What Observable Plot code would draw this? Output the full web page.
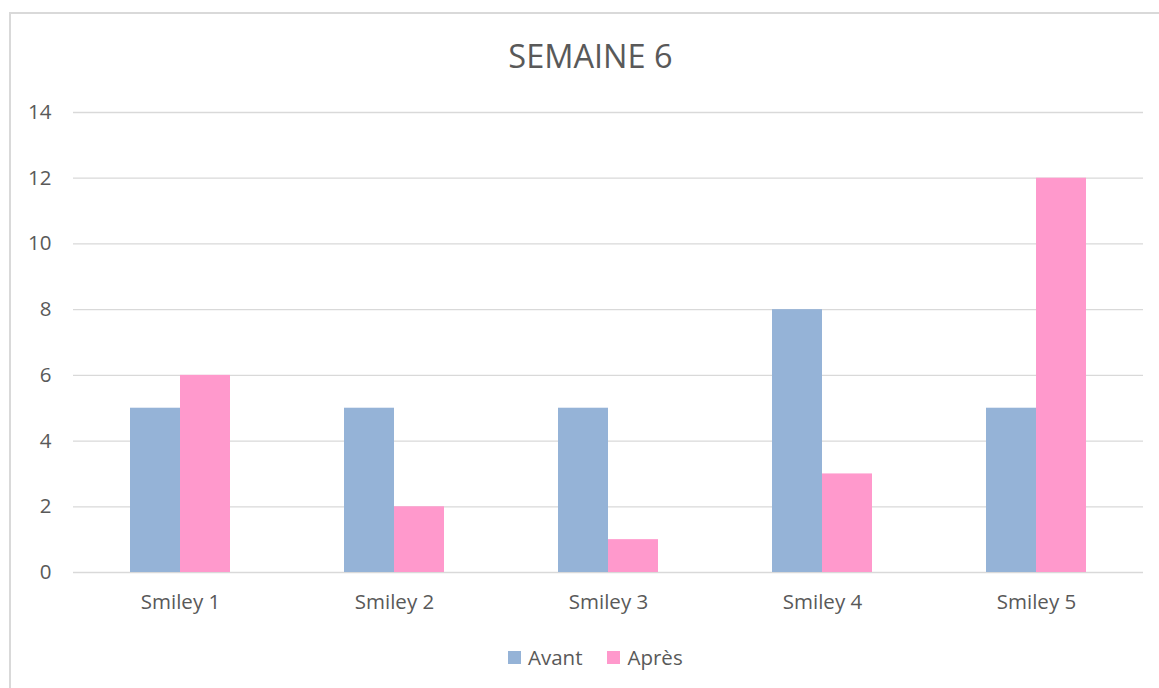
<!DOCTYPE html>
<html>
<head>
<meta charset="utf-8">
<script src="https://cdn.jsdelivr.net/npm/d3@7"></script>
<script src="https://cdn.jsdelivr.net/npm/@observablehq/plot@0.6"></script>
<style>
  html, body { margin: 0; padding: 0; background: #fff; }
  #wrap { position: relative; width: 1159px; height: 688px; overflow: hidden; font-family: "Open Sans", sans-serif; color: #595959; }
  #frame { position: absolute; left: 9px; top: 12px; width: 1200px; height: 700px; border-left: 2px solid #d9d9d9; border-top: 2px solid #d9d9d9; }
  #title { position: absolute; left: 0; top: 34px; width: 1181px; text-align: center; font-size: 32.5px; line-height: 44px; }
  #chart { position: absolute; left: 0; top: 0; }
  #legend { position: absolute; left: 508px; top: 644px; display: flex; align-items: center; font-size: 20.5px; line-height: 26px; }
  .sw { width: 13px; height: 13px; margin-right: 7px; }
  .item { display: flex; align-items: center; margin-right: 25px; }
</style>
</head>
<body>
<div id="wrap">
  <div id="frame"></div>
  <div id="chart"></div>
  <div id="title">SEMAINE 6</div>
  <div id="legend"></div>
</div>
<script>
const categories = ["Smiley 1", "Smiley 2", "Smiley 3", "Smiley 4", "Smiley 5"];
const series = ["Avant", "Après"];
const avant = [5, 5, 5, 8, 5];
const apres = [6, 2, 1, 3, 12];
const colors = ["#95b3d7", "#ff99cc"];
const yTicks = [0, 2, 4, 6, 8, 10, 12, 14];

const data = [];
categories.forEach((c, i) => {
  data.push({cat: c, series: series[0], value: avant[i]});
  data.push({cat: c, series: series[1], value: apres[i]});
});

const chart = Plot.plot({
  width: 1159,
  height: 630,
  marginTop: 112,
  marginLeft: 72,
  marginRight: 16,
  marginBottom: 58,
  style: {fontSize: "20.5px", fontFamily: "Open Sans", color: "#595959", background: "transparent"},
  fx: {domain: categories, padding: 0, label: null, tickSize: 0, tickPadding: 22},
  x: {domain: series, paddingInner: 0, paddingOuter: 1.1, axis: null},
  y: {domain: [0, 14], ticks: yTicks, tickSize: 0, tickPadding: 22, label: null},
  color: {domain: series, range: colors},
  marks: [
    Plot.gridY(yTicks, {stroke: "#d9d9d9", strokeOpacity: 1, strokeWidth: 1.3}),
    Plot.barY(data, {fx: "cat", x: "series", y: "value", fill: "series"})
  ]
});
document.getElementById("chart").appendChild(chart);

const legend = document.getElementById("legend");
series.forEach((s, i) => {
  const item = document.createElement("div");
  item.className = "item";
  const sw = document.createElement("div");
  sw.className = "sw";
  sw.style.background = colors[i];
  const t = document.createElement("span");
  t.textContent = s;
  item.appendChild(sw);
  item.appendChild(t);
  legend.appendChild(item);
});
</script>
</body>
</html>
